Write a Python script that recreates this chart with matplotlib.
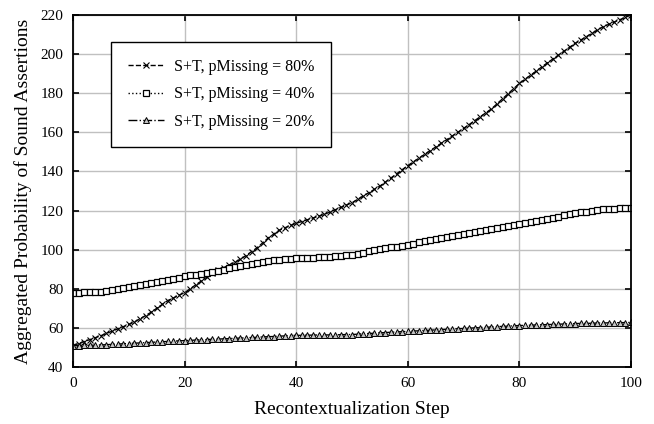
import numpy as np
import matplotlib
matplotlib.use("Agg")
import matplotlib.pyplot as plt

steps = np.arange(0, 101)

# S+T, pMissing = 80%
p80 = [51.0, 52.0, 53.0, 54.0, 55.0, 56.0, 57.2, 58.3, 59.5, 60.6,
       61.8, 63.0, 64.6, 66.3, 68.0, 70.0, 72.0, 74.0, 75.3, 76.7,
       78.0, 80.0, 82.0, 84.0, 86.0, 88.0, 89.4, 90.8, 92.2, 93.6,
       95.0, 97.0, 99.0, 101.0, 103.5, 106.0, 108.0, 110.0, 111.2, 112.4,
       113.5, 114.4, 115.3, 116.2, 117.1, 118.0, 119.2, 120.4, 121.6, 122.8,
       124.0, 125.7, 127.4, 129.1, 130.8, 132.5, 134.6, 136.7, 138.8, 140.9,
       143.0, 144.9, 146.8, 148.7, 150.6, 152.5, 154.4, 156.3, 158.2, 160.1,
       162.0, 164.0, 166.0, 168.0, 170.0, 172.0, 174.6, 177.2, 179.8, 182.4,
       185.0, 187.1, 189.2, 191.3, 193.4, 195.5, 197.5, 199.5, 201.5, 203.5,
       205.5, 207.2, 208.9, 210.6, 212.3, 214.0, 215.2, 216.4, 217.6, 218.8,
       220.0]

# S+T, pMissing = 40%
p40 = [78.0, 78.1, 78.2, 78.3, 78.4, 78.6, 79.1, 79.6, 80.1, 80.6,
       81.0, 81.5, 82.0, 82.5, 83.0, 83.5, 84.1, 84.6, 85.2, 85.7,
       86.3, 86.8, 87.2, 87.7, 88.1, 88.6, 89.2, 89.8, 90.4, 91.0,
       91.6, 92.2, 92.7, 93.3, 93.8, 94.3, 94.6, 94.9, 95.1, 95.4,
       95.6, 95.7, 95.8, 96.0, 96.1, 96.2, 96.4, 96.7, 96.9, 97.2,
       97.4, 98.0, 98.5, 99.1, 99.6, 100.2, 100.7, 101.2, 101.6, 102.1,
       102.6, 103.1, 103.7, 104.2, 104.8, 105.3, 105.8, 106.4, 106.9, 107.5,
       108.0, 108.5, 109.0, 109.6, 110.1, 110.6, 111.1, 111.6, 112.2, 112.7,
       113.2, 113.7, 114.2, 114.8, 115.3, 115.8, 116.3, 116.9, 117.5, 118.1,
       118.6, 119.1, 119.5, 119.9, 120.3, 120.6, 120.8, 120.9, 121.1, 121.3,
       121.4]

# S+T, pMissing = 20%
p20 = [51.0, 51.0, 51.1, 51.1, 51.2, 51.3, 51.4, 51.6, 51.7, 51.9,
       52.0, 52.2, 52.3, 52.5, 52.6, 52.8, 52.9, 53.1, 53.2, 53.4,
       53.5, 53.6, 53.8, 53.9, 54.0, 54.2, 54.3, 54.4, 54.5, 54.7,
       54.8, 54.9, 55.1, 55.2, 55.4, 55.5, 55.6, 55.8, 55.9, 56.1,
       56.2, 56.2, 56.3, 56.3, 56.4, 56.4, 56.4, 56.5, 56.5, 56.6,
       56.6, 56.8, 57.0, 57.1, 57.3, 57.5, 57.6, 57.8, 57.9, 58.1,
       58.2, 58.4, 58.5, 58.7, 58.8, 59.0, 59.1, 59.3, 59.4, 59.6,
       59.7, 59.9, 60.0, 60.2, 60.3, 60.5, 60.6, 60.8, 60.9, 61.1,
       61.2, 61.3, 61.4, 61.5, 61.6, 61.7, 61.8, 61.9, 62.0, 62.1,
       62.2, 62.3, 62.3, 62.4, 62.5, 62.5, 62.6, 62.6, 62.7, 62.7,
       62.8]

labels = ["S+T, pMissing = 80%", "S+T, pMissing = 40%", "S+T, pMissing = 20%"]
xticks = [0, 20, 40, 60, 80, 100]
yticks = list(range(40, 221, 20))

plt.rcParams["font.family"] = ["Liberation Serif", "DejaVu Serif"]

fig = plt.figure(figsize=(6.54, 4.24), dpi=100)
ax = fig.add_axes([0.1116, 0.1344, 0.8532, 0.8302])

ax.plot(steps, p80, linestyle="--", color="black", lw=1.0,
        marker="x", markersize=5, markeredgewidth=0.8, label=labels[0])
ax.plot(steps, p40, linestyle=":", color="black", lw=1.0,
        marker="s", markersize=4.5, markerfacecolor="white",
        markeredgewidth=0.9, label=labels[1])
ax.plot(steps, p20, linestyle="-.", color="black", lw=1.0,
        marker="^", markersize=5, markerfacecolor="#c4c4c4",
        markeredgewidth=0.7, label=labels[2])

ax.set_xlim(0, 100)
ax.set_ylim(40, 220)
ax.set_xticks(xticks)
ax.set_yticks(yticks)
ax.grid(True, color="#c0c0c0", lw=1.0)
ax.set_axisbelow(True)
ax.tick_params(direction="in", length=4, width=1.2, top=True, right=True,
               labelsize=11, pad=7)
for sp in ax.spines.values():
    sp.set_linewidth(1.3)

ax.set_xlabel("Recontextualization Step", fontsize=14, labelpad=8)
ax.set_ylabel("Aggregated Probability of Sound Assertions", fontsize=14, labelpad=6)

leg = ax.legend(loc="upper left", bbox_to_anchor=(0.068, 0.923), numpoints=1,
                fontsize=11.5, handlelength=2.3, handletextpad=0.6,
                labelspacing=0.72, borderpad=1.05,
                borderaxespad=0, fancybox=False, framealpha=1,
                edgecolor="black")
leg.get_frame().set_linewidth(1.0)

fig.savefig("out.png", dpi=100)
